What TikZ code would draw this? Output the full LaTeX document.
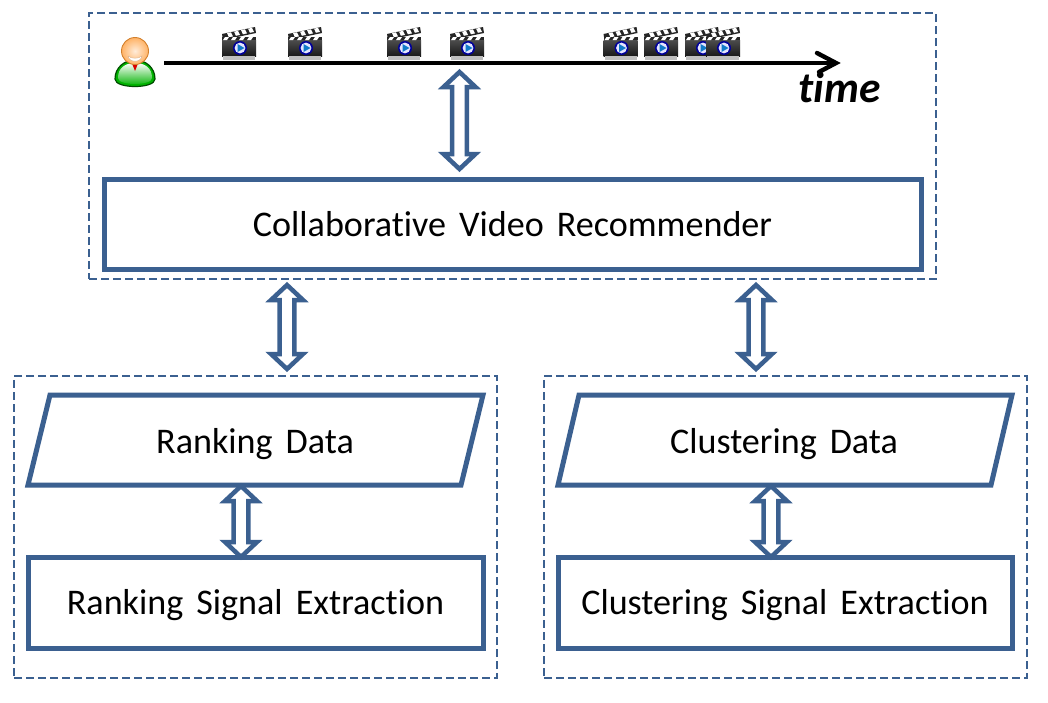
\documentclass[tikz,border=0pt]{standalone}
\usepackage{fontspec}
\setmainfont[WordSpace=1.6,Ligatures=NoCommon]{Carlito}
\usetikzlibrary{calc}
\definecolor{bl}{HTML}{3B6090}
\tikzset{
 x=1pt,y=-1pt,
 dashbox/.style={draw=bl,line width=2.9pt,dash pattern=on 8pt off 4pt,inner sep=0pt},
 solidbox/.style={draw=bl,line width=5pt,fill=white,line join=miter,text=black,font=\fontsize{36.1pt}{40pt}\selectfont,inner sep=0pt,align=center,text height=28pt,text depth=4pt},
 lbl/.style={font=\fontsize{36.1pt}{40pt}\selectfont,text=black,inner sep=0pt,text height=28pt,text depth=4pt},
 dbl/.style={draw=bl,fill=white,line width=4.5pt,line join=miter,miter limit=10,
  to path={let \p1=(\tikztostart),\p2=(\tikztotarget),\n1={7.4pt},\n2={16pt},\n3={15pt} in
   (\x1,\y1) -- (\x1+\n2,\y1+\n3) -- (\x1+\n1,\y1+\n3) -- (\x2+\n1,\y2-\n3) -- (\x2+\n2,\y2-\n3) -- (\x2,\y2) -- (\x2-\n2,\y2-\n3) -- (\x2-\n1,\y2-\n3) -- (\x1-\n1,\y1+\n3) -- (\x1-\n2,\y1+\n3) -- cycle}},
 clap/.pic={
  \shade[top color=black!70,bottom color=black!90] (0,13) rectangle (34,29);
  \fill[black!25] (1,29) rectangle (33,33);
  \fill[black!85] (0,7) -- (33,0) -- (34,6) -- (1,13) -- cycle;
  \foreach \i in {0,1,2,3}{\fill[white] (5+7*\i,6.2-1.5*\i) -- (9+7*\i,5.3-1.5*\i) -- (11+7*\i,9.4-1.5*\i) -- (7+7*\i,10.3-1.5*\i) -- cycle;}
  \fill[black!85] (0,10) rectangle (34,13);
  \foreach \i in {0,1,2,3}{\fill[white] (3+8*\i,10) -- (7+8*\i,10) -- (5+8*\i,13) -- (1+8*\i,13) -- cycle;}
  \fill[blue!60!black] (18,21) circle (7);
  \fill[white!90!blue] (18,21) circle (5.4);
  \fill[cyan!60!blue] (15.5,17) -- (22.5,21) -- (15.5,25) -- cycle;
 },
 person/.pic={
  \draw[fill=green!70!black,draw=black!70!green,line width=1.2pt] (-20,28) .. controls (-20,38) and (20,38) .. (20,28) .. controls (20,16) and (10,9) .. (0,9) .. controls (-10,9) and (-20,16) .. (-20,28) -- cycle;
  \shade[top color=white,bottom color=green!70!black] (-17,27) .. controls (-17,17) and (-10,12) .. (0,12) .. controls (10,12) and (17,17) .. (17,27) .. controls (17,35) and (-17,35) .. (-17,27) -- cycle;
  \fill[red!85!black] (-4,10) -- (4,10) -- (0,20) -- cycle;
  \shade[draw=brown!70!orange,line width=.9pt,inner color=orange!15,outer color=orange!60] (0,0) circle (13.5);
  \fill[white,draw=brown!60] (-7,5) .. controls (-3,8) and (3,8) .. (7,5) .. controls (6,12) and (-6,12) .. (-7,5);
 }
}
\begin{document}
\begin{tikzpicture}
\useasboundingbox (0,0) rectangle (1048,702);
\fill[white] (0,0) rectangle (1048,702);
% dashed groups
\node[dashbox,minimum width=847pt,minimum height=266pt] (top) at (512.5,146) {};
\node[dashbox,minimum width=483pt,minimum height=302pt] (lgrp) at (255.5,527) {};
\node[dashbox,minimum width=483pt,minimum height=302pt] (rgrp) at (785.5,527) {};
% boxes
\node[solidbox,minimum width=817pt,minimum height=90pt] (rec) at (512.5,224) {Collaborative Video Recommender};
\node[solidbox,minimum width=455pt,minimum height=91pt] (rse) at (255.5,602.5) {Ranking Signal Extraction};
\node[solidbox,minimum width=454pt,minimum height=91pt] (cse) at (785,602.5) {Clustering Signal Extraction};
\draw[solidbox] (50,395) -- (483,395) -- (461,485) -- (28,485) -- cycle;
\node[lbl] (rd) at (255,441) {Ranking Data};
\draw[solidbox] (579,395) -- (1012,395) -- (991,485) -- (558,485) -- cycle;
\node[lbl] (cd) at (784,441) {Clustering Data};
% timeline
\node[inner sep=0pt,minimum size=0pt] (tl0) at (164,63) {};
\coordinate (tl1) at (836,63);
\draw[line width=4pt,line cap=butt] (tl0) -- (tl1);
\draw[line width=4.4pt,line cap=round,line join=miter] (817,53) -- (836,63) -- (819,72);
\node[font=\fontsize{43.5pt}{48pt}\selectfont\bfseries\itshape,inner sep=0pt] (tm) at (839.5,87) {time};
% icons
\foreach \px in {222,288,387,450,603.5,644,685,706}{\pic at (\px,27) {clap};}
\pic at (135,51) {person};
% arrows
\coordinate (a1) at (459.5,169);
\coordinate (a2) at (459.5,72);
\draw[dbl] (a1) to (a2);
\coordinate (b1) at (287,369);
\coordinate (b2) at (287,285);
\draw[dbl] (b1) to (b2);
\coordinate (c1) at (756,369);
\coordinate (c2) at (756,285);
\draw[dbl] (c1) to (c2);
\coordinate (d1) at (241,557);
\coordinate (d2) at (241,486);
\draw[dbl] (d1) to (d2);
\coordinate (e1) at (771,557);
\coordinate (e2) at (771,486);
\draw[dbl] (e1) to (e2);
\end{tikzpicture}
\end{document}
